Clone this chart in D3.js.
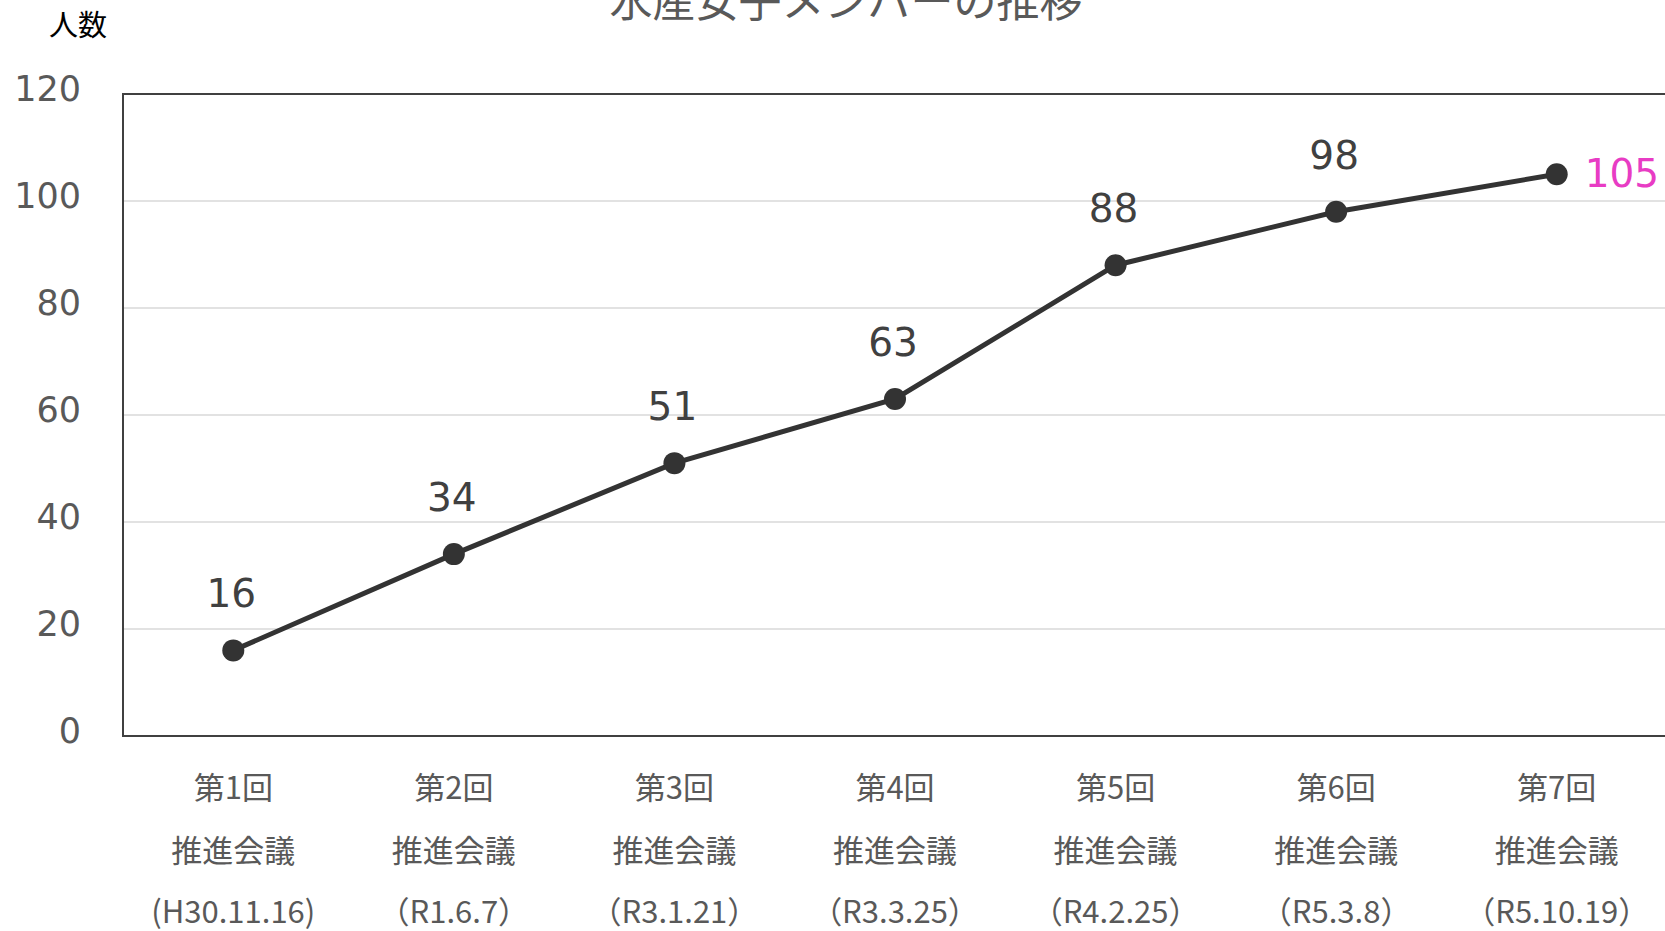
<!DOCTYPE html>
<html>
<head>
<meta charset="utf-8">
<script src="https://cdn.jsdelivr.net/npm/d3@7"></script>
<style>
  body { margin: 0; background: #fff; }
  svg { display: block; }
</style>
</head>
<body>
<svg width="1665" height="931"></svg>
<script>
// data
var rounds = ["第1回", "第2回", "第3回", "第4回", "第5回", "第6回", "第7回"];
var dates = ["(H30.11.16)", "（R1.6.7）", "（R3.1.21）", "（R3.3.25）", "（R4.2.25）", "（R5.3.8）", "（R5.10.19）"];
var members = [16, 34, 51, 63, 88, 98, 105];
var yTicks = [0, 20, 40, 60, 80, 100, 120];

var svg = d3.select("svg");
var jp = "'Noto Sans CJK JP', sans-serif";
var num = "'DejaVu Sans', Verdana, sans-serif";

// plot area
var plotL = 123, plotR = 1667, plotT = 94, plotB = 736;

var x = d3.scaleBand()
    .domain(rounds)
    .range([plotL, plotR]);

var y = d3.scaleLinear()
    .domain([0, 120])
    .range([plotB, plotT]);

function cx(i) { return x(rounds[i]) + x.bandwidth() / 2; }

// gridlines
svg.append("g")
    .selectAll("line")
    .data(yTicks.filter(function(d) { return d > 0 && d < 120; }))
    .enter().append("line")
    .attr("x1", plotL)
    .attr("x2", plotR)
    .attr("y1", function(d) { return y(d); })
    .attr("y2", function(d) { return y(d); })
    .style("stroke", "#d9d9d9")
    .style("stroke-width", 1.5);

// frame
svg.append("path")
    .attr("d", "M" + plotR + "," + plotT + "H" + plotL + "V" + plotB + "H" + plotR)
    .style("fill", "none")
    .style("stroke", "#404040")
    .style("stroke-width", 2);

// y axis labels
var yAxis = d3.axisLeft(y)
    .tickValues(yTicks)
    .tickSize(0)
    .tickPadding(plotL - 81);

svg.append("g")
    .attr("transform", "translate(" + plotL + ",-5)")
    .call(yAxis)
    .call(function(g) { g.select(".domain").remove(); })
    .selectAll("text")
    .style("font-family", num)
    .style("font-size", "35px")
    .style("fill", "#595959");

// x axis labels (3 lines)
var xl = svg.append("g")
    .selectAll("text")
    .data(rounds)
    .enter().append("text")
    .attr("text-anchor", "middle")
    .style("font-family", jp)
    .style("font-size", "31px")
    .style("fill", "#595959");

xl.append("tspan")
    .attr("x", function(d, i) { return cx(i); })
    .attr("y", 799)
    .text(function(d) { return d; });
xl.append("tspan")
    .attr("x", function(d, i) { return cx(i); })
    .attr("y", 862)
    .text("推進会議");
xl.append("tspan")
    .attr("x", function(d, i) { return cx(i); })
    .attr("y", 923)
    .text(function(d, i) { return dates[i]; });

// line
var line = d3.line()
    .x(function(d, i) { return cx(i); })
    .y(function(d) { return y(d); });

svg.append("path")
    .datum(members)
    .attr("d", line)
    .style("fill", "none")
    .style("stroke", "#333333")
    .style("stroke-width", 5);

svg.append("g")
    .selectAll("circle")
    .data(members)
    .enter().append("circle")
    .attr("cx", function(d, i) { return cx(i); })
    .attr("cy", function(d) { return y(d); })
    .attr("r", 11)
    .style("fill", "#333333");

// data labels
var last = members.length - 1;
svg.append("g")
    .selectAll("text")
    .data(members)
    .enter().append("text")
    .attr("x", function(d, i) { return i == last ? cx(i) + 28 : cx(i) - 2; })
    .attr("y", function(d, i) { return i == last ? y(d) + 13 : y(d) - 43; })
    .attr("text-anchor", function(d, i) { return i == last ? "start" : "middle"; })
    .style("font-family", num)
    .style("font-size", "39px")
    .style("fill", function(d, i) { return i == last ? "#e83cc4" : "#404040"; })
    .text(function(d) { return d; });

// title and unit
svg.append("text")
    .attr("x", 846)
    .attr("y", 17)
    .attr("text-anchor", "middle")
    .style("font-family", jp)
    .style("font-size", "43px")
    .style("fill", "#595959")
    .text("水産女子メンバーの推移");

svg.append("text")
    .attr("x", 78)
    .attr("y", 36)
    .attr("text-anchor", "middle")
    .style("font-family", jp)
    .style("font-size", "29px")
    .style("fill", "#000")
    .text("人数");
</script>
</body>
</html>
